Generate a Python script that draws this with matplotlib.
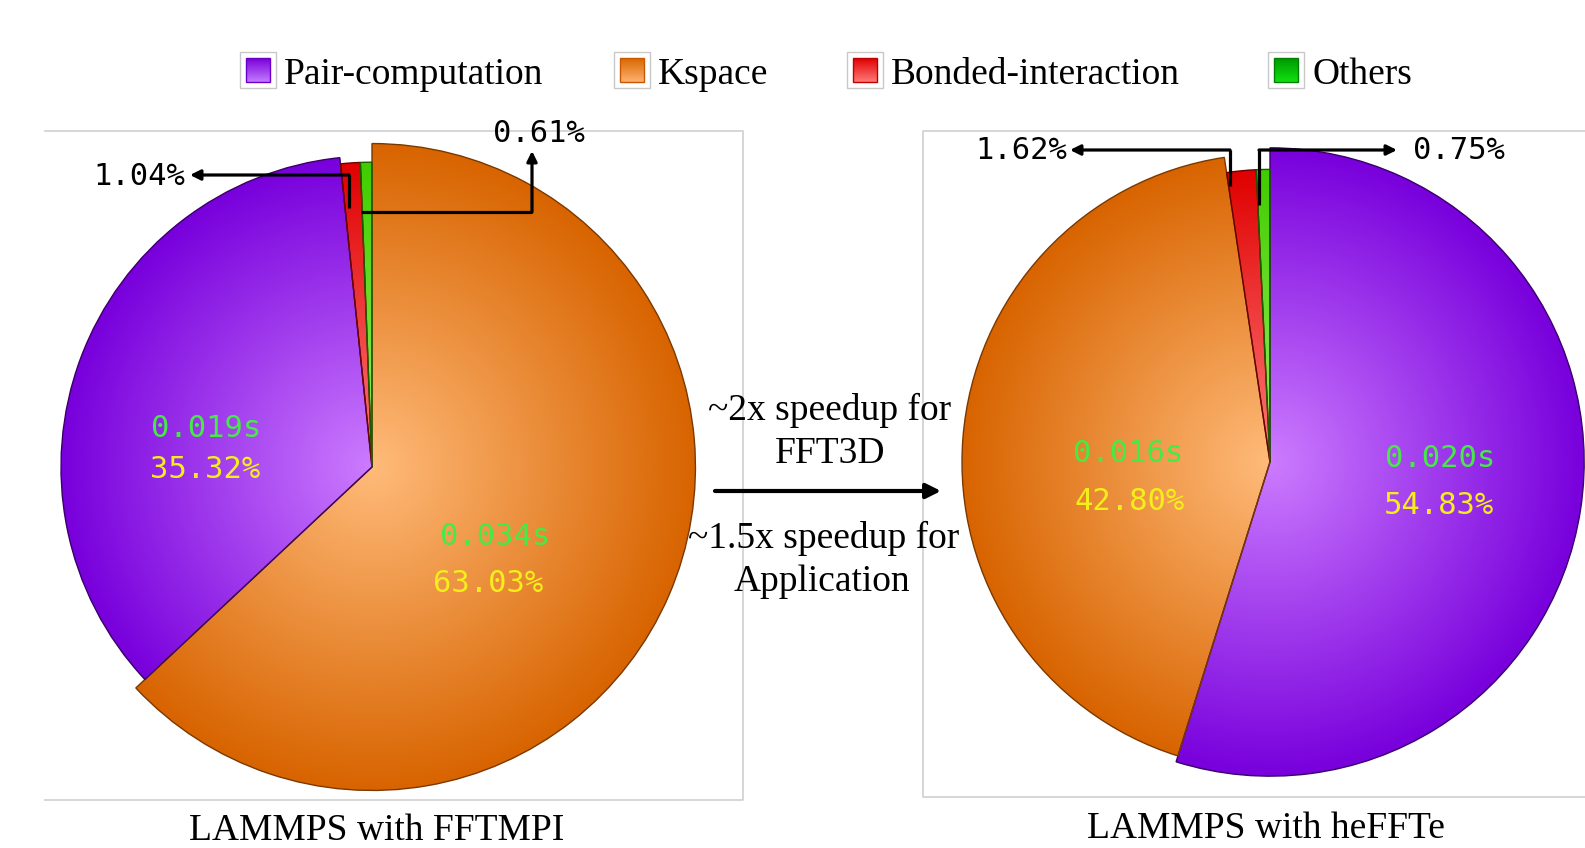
import numpy as np
import matplotlib
matplotlib.use("Agg")
import matplotlib.pyplot as plt
from matplotlib.patches import Rectangle
from matplotlib.colors import to_rgb

W, H = 1585, 848

categories = ["Pair-computation", "Kspace", "Bonded-interaction", "Others"]

# left pie, clockwise from 12 o'clock
fftmpi_order = ["Kspace", "Pair-computation", "Bonded-interaction", "Others"]
fftmpi_pct = [63.03, 35.32, 1.04, 0.61]
fftmpi_time = ["0.034s", "0.019s", "", ""]

# right pie, clockwise from 12 o'clock
heffte_order = ["Pair-computation", "Kspace", "Bonded-interaction", "Others"]
heffte_pct = [54.83, 42.80, 1.62, 0.75]
heffte_time = ["0.020s", "0.016s", "", ""]

titles = ["LAMMPS with FFTMPI", "LAMMPS with heFFTe"]
middle_top = ["~2x speedup for", "FFT3D"]
middle_bottom = ["~1.5x speedup for", "Application"]

# (light centre, dark rim, edge)
pie_cols = {
    "Pair-computation": ("#cc7cff", "#7800dc", "#3a0068"),
    "Kspace": ("#ffbb7a", "#d86400", "#7a3800"),
    "Bonded-interaction": ("#ff7a7a", "#e00000", "#6a0000"),
    "Others": ("#9cf060", "#40cc00", "#1c5a00"),
}
# (top, bottom, border) for legend squares
leg_cols = {
    "Pair-computation": ("#7a00d8", "#c27aff", "#6a00c8"),
    "Kspace": ("#d86800", "#ffb070", "#c85800"),
    "Bonded-interaction": ("#e00000", "#ff7878", "#c00000"),
    "Others": ("#009800", "#10e010", "#008000"),
}

SERIF = "Liberation Serif"
MONO = "DejaVu Sans Mono"
GREEN_TXT = "#46ea46"
YELLOW_TXT = "#f6ee1a"


def Y(y):
    return H - y


def radial(c1, c2, n=400):
    a, b = np.array(to_rgb(c1)), np.array(to_rgb(c2))
    g = np.linspace(-1, 1, n)
    xx, yy = np.meshgrid(g, g)
    t = np.clip(np.hypot(xx, yy), 0, 1)[..., None] ** 1.0
    return a * (1 - t) + b * t


def draw_pie(ax, cx, cy, R, order, pct, scales):
    wedges, _ = ax.pie(pct, startangle=90, counterclock=False, center=(cx, Y(cy)),
                       radius=R, frame=True, wedgeprops=dict(linewidth=1.0))
    for w, name, s in zip(wedges, order, scales):
        light, dark, edge = pie_cols[name]
        w.set_radius(R * s)
        w.set_facecolor("none")
        w.set_edgecolor(edge)
        w.set_zorder(3)
        rr = R * s
        im = ax.imshow(radial(light, dark), extent=[cx - rr, cx + rr, Y(cy) - rr, Y(cy) + rr],
                       origin="lower", zorder=2, interpolation="bilinear")
        im.set_clip_path(w)
    return wedges


def elbow(ax, pts, tip, lw=2.3):
    xs = [p[0] for p in pts]
    ys = [Y(p[1]) for p in pts]
    ax.plot(xs, ys, color="k", lw=lw, solid_capstyle="butt", zorder=5)
    ax.annotate("", xy=(tip[0], Y(tip[1])), xytext=(pts[-1][0], Y(pts[-1][1])),
                arrowprops=dict(arrowstyle="-|>", color="k", lw=lw, mutation_scale=15,
                                shrinkA=0, shrinkB=0), zorder=5)


fig = plt.figure(figsize=(W / 100, H / 100), dpi=100)
ax = fig.add_axes([0, 0, 1, 1])

# frames
fc = "#cfcfcf"
ax.plot([45, 743, 743, 45], [Y(131), Y(131), Y(800), Y(800)], color=fc, lw=1.2, zorder=1)
ax.plot([1585, 923, 923, 1585], [Y(131), Y(131), Y(797), Y(797)], color=fc, lw=1.2, zorder=1)

# pies
draw_pie(ax, 372, 467, 311, fftmpi_order, fftmpi_pct, [1.04, 1.0, 0.98, 0.98])
draw_pie(ax, 1270, 462, 308, heffte_order, heffte_pct, [1.02, 1.0, 0.95, 0.95])

# in-slice labels
mono = dict(family=MONO, fontsize=22, ha="center", va="baseline", zorder=6)
left_pos = [(495, 534, 488, 581), (206, 426, 205, 467)]
for (xt, yt, xp, yp), i in zip(left_pos, [0, 1]):
    ax.text(xt, Y(yt + 11), fftmpi_time[i], color=GREEN_TXT, **mono)
    ax.text(xp, Y(yp + 11), f"{fftmpi_pct[i]:.2f}%", color=YELLOW_TXT, **mono)
right_pos = [(1440, 456, 1439, 503), (1128, 451, 1130, 499)]
for (xt, yt, xp, yp), i in zip(right_pos, [0, 1]):
    ax.text(xt, Y(yt + 11), heffte_time[i], color=GREEN_TXT, **mono)
    ax.text(xp, Y(yp + 11), f"{heffte_pct[i]:.2f}%", color=YELLOW_TXT, **mono)

# small-slice callouts
ann = dict(family=MONO, fontsize=22, color="k", va="baseline", zorder=6)
elbow(ax, [(349, 208), (349, 175)], (190, 175))
ax.text(93, Y(185), f"{fftmpi_pct[2]:.2f}%", ha="left", **ann)
elbow(ax, [(361, 212), (532, 212)], (532, 151))
ax.text(493, Y(142), f"{fftmpi_pct[3]:.2f}%", ha="left", **ann)
elbow(ax, [(1230, 186), (1230, 150)], (1070, 150))
ax.text(975, Y(159), f"{heffte_pct[2]:.2f}%", ha="left", **ann)
elbow(ax, [(1259, 205), (1259, 150)], (1397, 150))
ax.text(1413, Y(159), f"{heffte_pct[3]:.2f}%", ha="left", **ann)

# middle text and arrow
serif = dict(family=SERIF, fontsize=27, color="k", ha="center", va="baseline")
ax.text(830, Y(420), middle_top[0], **serif)
ax.text(830, Y(463), middle_top[1], **serif)
ax.text(824, Y(548), middle_bottom[0], **serif)
ax.text(822, Y(591), middle_bottom[1], **serif)
ax.annotate("", xy=(941, Y(491)), xytext=(715, Y(491)),
            arrowprops=dict(arrowstyle="-|>", color="k", lw=3, mutation_scale=22,
                            shrinkA=0, shrinkB=0))

# titles
ax.text(377, Y(840), titles[0], **serif)
ax.text(1266, Y(838), titles[1], **serif)

# legend
leg_x = [240, 614, 847, 1268]
for name, bx in zip(categories, leg_x):
    top, bot, border = leg_cols[name]
    cy = 70
    ax.add_patch(Rectangle((bx, Y(cy + 18)), 36, 36, facecolor="white",
                           edgecolor="#c8c8c8", lw=1.0, zorder=4))
    a, b = np.array(to_rgb(top)), np.array(to_rgb(bot))
    t = np.linspace(0, 1, 50)[:, None, None]
    grad = a * (1 - t) + b * t
    ix0 = bx + 6
    ax.imshow(grad, extent=[ix0, ix0 + 24, Y(cy + 12), Y(cy - 12)], origin="upper",
              zorder=5, aspect="auto", interpolation="bilinear")
    ax.add_patch(Rectangle((ix0, Y(cy + 12)), 24, 24, facecolor="none",
                           edgecolor=border, lw=1.0, zorder=6))
    ax.text(bx + 44, Y(84), name, family=SERIF, fontsize=27, color="k",
            ha="left", va="baseline")

ax.set_xlim(0, W)
ax.set_ylim(0, H)
ax.set_aspect("auto")
ax.axis("off")

fig.savefig("out.png", dpi=100, facecolor="white")
